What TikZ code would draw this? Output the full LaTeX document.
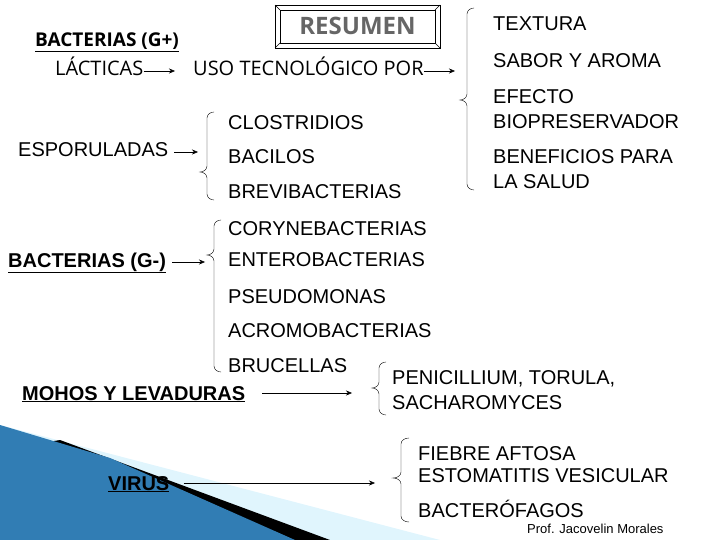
\documentclass[tikz,border=0pt]{standalone}
\usepackage{fontspec}
\setmainfont{Liberation Sans}
\newfontfamily\trebu{Open Sans}
\usetikzlibrary{arrows.meta}
\newcommand\mybrace[5]{% x(tip), ytop, ytip, ybot, width
  \draw[thin] ({#1+#5},#2) to[out=180,in=90] ({#1+#5/2},{#2+6}) -- ({#1+#5/2},{#3-6}) to[out=-90,in=0] (#1,#3) to[out=0,in=90] ({#1+#5/2},{#3+6}) -- ({#1+#5/2},{#4-6}) to[out=-90,in=180] ({#1+#5},#4);}
\begin{document}
\begin{tikzpicture}[x=1pt,y=-1pt,
  t/.style={anchor=base west,inner sep=0pt,font=\fontsize{20}{20}\selectfont},
  tl/.style={t,font=\fontsize{20}{20}\selectfont},
  tb/.style={t,font=\fontsize{20}{20}\selectfont\bfseries},
  tt/.style={t,font=\trebu\fontsize{20}{20}\selectfont},
  ar/.style={-{Stealth[length=6pt,width=5pt]},thin}]
\useasboundingbox (0,0) rectangle (720,540);
% decoration
\fill[cyan!12!white] (0,425) -- (440,540) -- (0,540) -- cycle;
\fill[black] (60,440) -- (330,540) -- (290,540) -- (0,450) -- cycle;
\fill[cyan!70!blue!80!black] (0,425) -- (110,458) -- (295,540) -- (0,540) -- cycle;
% title box
\draw[thick] (275,5) rectangle (440,48);
\draw (280,10) rectangle (435,43);
\draw (275,5)--(280,10) (440,5)--(435,10) (275,48)--(280,43) (440,48)--(435,43);
\node[anchor=base,inner sep=0pt,text=black!60,font=\trebu\fontsize{24}{24}\selectfont\bfseries] (res) at (357.5,35) {RESUMEN};
% top
\node[tt,font=\trebu\fontsize{19}{19}\selectfont\bfseries] (gp) at (35,47) {\underline{BACTERIAS (G+)}};
\node[tt] (lac) at (55,76) {LÁCTICAS};
\node[tt] (uso) at (193,76) {USO TECNOLÓGICO POR};
\coordinate (l1) at (175,71);
\coordinate (u1) at (455,71);
\draw[ar] (lac.east|-0,71) -- (l1);
\draw[ar] (uso.east|-0,71) -- (u1);
\mybrace{460}{8}{100}{190}{14}
\node[t] (tex) at (493,31) {TEXTURA};
\node[t] (sab) at (493,68) {SABOR Y AROMA};
\node[t] (efe) at (493,104) {EFECTO};
\node[t] (bio) at (493,129) {BIOPRESERVADOR};
\node[t] (ben) at (493,164) {BENEFICIOS PARA};
\node[t] (sal) at (493,189) {LA SALUD};
% esporuladas
\node[t] (esp) at (18,157) {ESPORULADAS};
\coordinate (e1) at (198,152);
\draw[ar] ([xshift=6pt]esp.east|-0,152) -- (e1);
\mybrace{200}{112}{172}{200}{14}
\node[t] (clo) at (228,130) {CLOSTRIDIOS};
\node[t] (bac) at (228,164) {BACILOS};
\node[t] (bre) at (228,199) {BREVIBACTERIAS};
% G-
\node[tb] (gm) at (8,267) {\underline{BACTERIAS (G-)}};
\coordinate (g1) at (205,262);
\draw[ar] ([xshift=6pt]gm.east|-0,262) -- (g1);
\mybrace{207}{220}{255}{372}{14}
\node[t] (cor) at (228,236) {CORYNEBACTERIAS};
\node[t] (ent) at (228,266) {ENTEROBACTERIAS};
\node[t] (pse) at (228,303) {PSEUDOMONAS};
\node[t] (acr) at (228,337) {ACROMOBACTERIAS};
\node[t] (bru) at (228,372) {BRUCELLAS};
% mohos
\node[tb] (moh) at (22,400) {\underline{MOHOS Y LEVADURAS}};
\coordinate (m0) at (262,393);
\coordinate (m1) at (352,393);
\draw[ar] (m0) -- (m1);
\mybrace{372}{362}{388}{415}{14}
\node[t] (pen) at (392,384) {PENICILLIUM, TORULA,};
\node[t] (sac) at (392,409) {SACHAROMYCES};
% virus
\node[tb] (vir) at (108,490) {\underline{VIRUS}};
\coordinate (v1) at (375,483);
\draw[ar] ([xshift=14pt]vir.east|-0,483) -- (v1);
\mybrace{393}{438}{478}{522}{16}
\node[tl] (fie) at (418,460) {FIEBRE AFTOSA};
\node[tl] (est) at (418,482) {ESTOMATITIS VESICULAR};
\node[tl] (bfa) at (418,517) {BACTERÓFAGOS};
\node[anchor=base west,inner sep=0pt,font=\fontsize{13}{13}\selectfont] (prof) at (527,533) {Prof. Jacovelin Morales};
\end{tikzpicture}
\end{document}
